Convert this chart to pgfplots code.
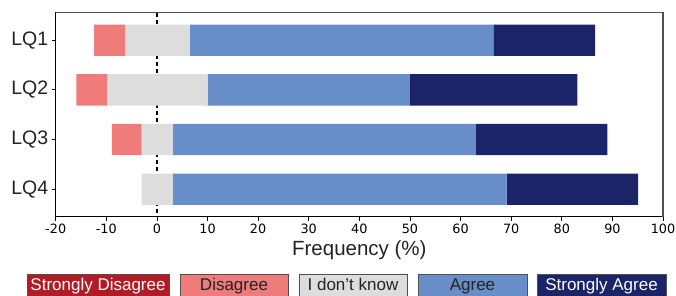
\documentclass[border=0pt]{standalone}
\usepackage{fontspec}
\setmainfont{Liberation Sans}
\newfontfamily\dejavu{DejaVu Sans}
\usepackage{pgfplots}
\pgfplotsset{compat=1.18}
\usepackage{pgfplotstable}
\definecolor{cSD}{RGB}{178,27,38}
\definecolor{cD}{RGB}{240,123,123}
\definecolor{cDK}{RGB}{221,221,221}
\definecolor{cA}{RGB}{103,142,200}
\definecolor{cSA}{RGB}{27,36,104}
\definecolor{cEdge}{RGB}{80,80,80}
\definecolor{cTxt}{RGB}{35,35,35}

% off = left end of each bar (invisible offset); then segment widths
\pgfplotstableread{
q off sd d dk a sa
1 -12.4 0 6.1 12.8 60.0 20.1
2 -15.9 0 6.1 19.8 40.0 33.1
3 -8.9 0 5.9 6.1 59.9 26.0
4 -3.0 0 0 6.1 66.0 26.0
}\likert

\begin{document}
\begin{tikzpicture}
\useasboundingbox (0pt,0pt) rectangle (676pt,296pt);
\begin{axis}[
  at={(55.7pt,79.3pt)}, anchor=south west,
  width=607.3pt, height=204pt, scale only axis,
  xbar stacked, stack negative=on previous, bar width=0.63,
  xmin=-20, xmax=100, ymin=0.445, ymax=4.555, y dir=reverse,
  ytick={1,2,3,4}, yticklabels={LQ1,LQ2,LQ3,LQ4},
  xtick={-20,-10,...,100},
  tick align=outside, xtick pos=lower, ytick pos=left,
  major tick length=4pt,
  xlabel={Frequency (\%)},
  xlabel style={font=\fontsize{20.5}{24}\selectfont, text=cTxt},
  yticklabel style={font=\fontsize{19.5}{22}\selectfont, text=cTxt},
  xticklabel style={font=\dejavu\fontsize{12.8}{15}\selectfont},
  /pgf/number format/assume math mode=true,
  axis line style={black, line width=1pt},
  tick style={black, line width=0.8pt},
  clip=false,
]
\addplot[draw=none, fill=none] table[x=off, y=q] {\likert};
\addplot[draw=none, fill=cSD] table[x=sd, y=q] {\likert};
\addplot[draw=none, fill=cD] table[x=d, y=q] {\likert};
\addplot[draw=none, fill=cDK] table[x=dk, y=q] {\likert};
\addplot[draw=none, fill=cA] table[x=a, y=q] {\likert};
\addplot[draw=none, fill=cSA] table[x=sa, y=q] {\likert};
\draw[black, line width=1.6pt, dash pattern=on 4.5pt off 2.5pt] (axis cs:0,0.445) -- (axis cs:0,4.555);
\end{axis}
\draw[cEdge, line width=1.6pt] (current axis.north west) -- (current axis.north east) -- (current axis.south east);
% legend
\begin{scope}[font=\fontsize{17}{20}\selectfont]
\draw[cEdge, line width=0.8pt, fill=cSD] (27pt,22pt) rectangle (169pt,-3pt);
\node[anchor=base, text=white, inner sep=0] at (98pt,5pt) {Strongly Disagree};
\draw[cEdge, line width=0.8pt, fill=cD] (180pt,22pt) rectangle (288pt,-3pt);
\node[anchor=base, text=cTxt, inner sep=0] at (234pt,5pt) {Disagree};
\draw[cEdge, line width=0.8pt, fill=cDK] (299pt,22pt) rectangle (407pt,-3pt);
\node[anchor=base, text=cTxt, inner sep=0] at (353pt,5pt) {I don’t know};
\draw[cEdge, line width=0.8pt, fill=cA] (418pt,22pt) rectangle (527pt,-3pt);
\node[anchor=base, text=cTxt, inner sep=0] at (472.5pt,5pt) {Agree};
\draw[cEdge, line width=0.8pt, fill=cSA] (537pt,22pt) rectangle (666pt,-3pt);
\node[anchor=base, text=white, inner sep=0] at (601.5pt,5pt) {Strongly Agree};
\end{scope}
\end{tikzpicture}
\end{document}
